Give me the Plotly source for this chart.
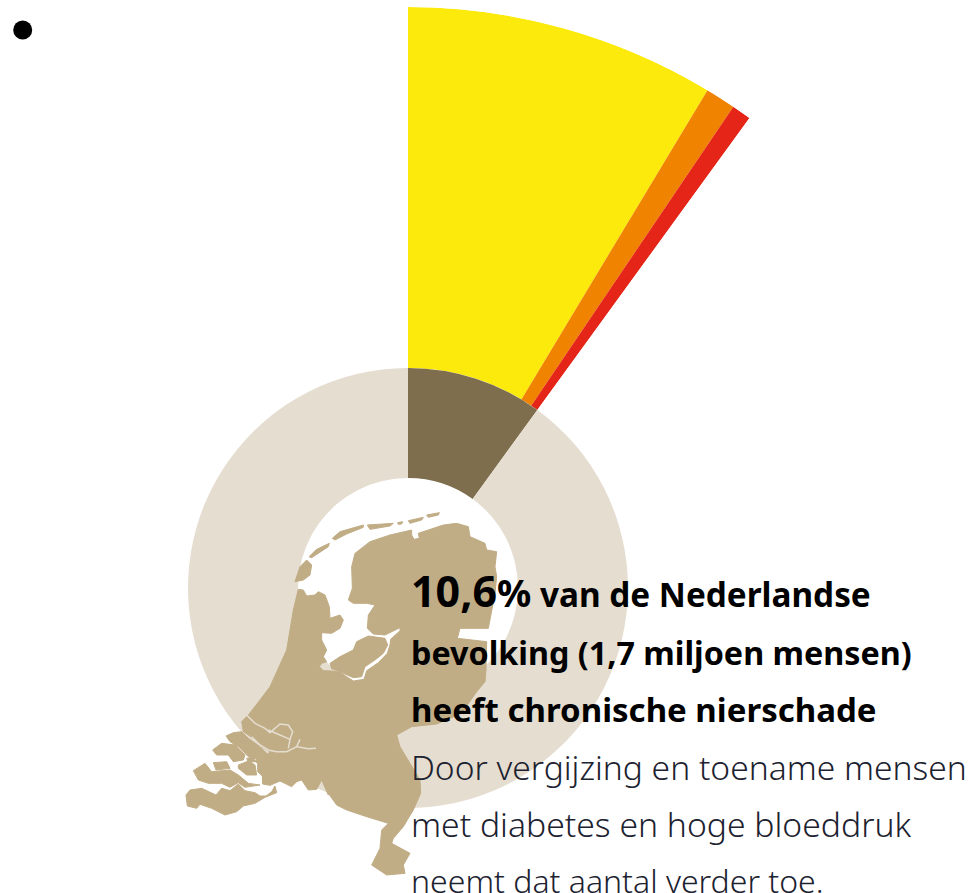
import plotly.graph_objects as go

W, H = 976, 893

# --- data ---
population_labels = ["chronische nierschade", "overige bevolking"]
population_share = [10, 90]            # share of the ring, percent of the circle
population_colors = ["#7e6e4e", "#e5ddcf"]

stage_labels = ["stadium licht", "stadium matig", "stadium ernstig"]
stage_share = [8.62, 0.84, 0.54]       # percent of the circle
stage_colors = ["#fdea0d", "#f08300", "#e42518"]
stage_outer_radius = 581
ring_outer_radius = 220

heading_lines = [
    '<span style="font-size:43px">10,6</span><span style="font-size:38px">%</span> van de Nederlandse',
    "bevolking (1,7 miljoen mensen)",
    "heeft chronische nierschade",
]
body_lines = [
    "Door vergijzing en toename mensen",
    "met diabetes en hoge bloeddruk",
    "neemt dat aantal verder toe.",
]

# --- decorative outline of the Netherlands (not data), in screen pixels ---
MAP_COLOR = "#c1ad85"
RING_COLOR = "#e5ddcf"


def z(ox, oy, pts):
    return [(ox + a / 3, oy + b / 3) for a, b in pts]


mainland = (
    z(290, 510, [(25, 238), (40, 240), (50, 258), (75, 255), (85, 245), (105, 255), (118, 290), (120, 325),
                 (150, 315), (160, 330), (150, 355), (125, 370), (95, 368), (95, 390), (110, 420), (100, 440),
                 (110, 455), (95, 460), (88, 470), (100, 482), (125, 483), (150, 487), (170, 500), (190, 513),
                 (222, 508), (230, 482), (265, 458), (292, 430), (300, 405), (302, 388), (330, 362), (330, 353),
                 (285, 375), (250, 372), (232, 355), (235, 315), (255, 285), (230, 280), (190, 280), (175, 270),
                 (187, 235), (185, 170), (195, 130), (240, 95), (300, 75), (365, 60), (365, 75), (372, 88),
                 (388, 85), (385, 70)])
    + z(180, 500, [(790, 75), (830, 70), (865, 80), (870, 110), (915, 130), (920, 150), (950, 155), (945, 200),
                   (950, 230), (945, 280), (925, 385), (840, 385), (832, 415), (920, 425), (918, 510), (915, 545),
                   (890, 575), (845, 640), (770, 672), (695, 680), (650, 705), (660, 740), (690, 790), (720, 840),
                   (722, 880), (700, 930), (670, 980), (640, 1015), (635, 1030), (690, 1060), (670, 1095),
                   (675, 1120), (620, 1125), (575, 1095), (600, 1045), (605, 990), (625, 970), (560, 950),
                   (500, 930), (470, 915), (445, 880)])
    + z(180, 700, [(445, 285), (425, 240), (410, 268), (385, 270), (365, 240), (350, 245), (335, 260), (300, 243),
                   (270, 256), (248, 252), (247, 228), (233, 215), (233, 190), (222, 182), (255, 170), (270, 155),
                   (245, 140), (220, 115), (190, 95), (185, 65), (205, 45), (240, 0)])
    + z(180, 500, [(270, 560), (320, 450), (340, 330)])
)
land_parts = [
    mainland,
    z(290, 510, [(120, 460), (150, 440), (190, 420), (200, 395), (235, 378), (285, 385), (293, 405), (280, 430),
                 (255, 450), (225, 470), (215, 500), (190, 503), (160, 490), (125, 476)]),
    # Wadden islands
    z(290, 510, [(15, 215), (30, 170), (50, 150), (65, 165), (60, 195), (40, 210)]),
    z(290, 510, [(57, 140), (80, 118), (118, 100), (115, 110), (85, 130), (65, 143)]),
    z(290, 510, [(127, 85), (150, 65), (220, 45), (220, 52), (170, 72), (135, 90)]),
    z(290, 510, [(232, 45), (310, 40), (300, 48), (240, 58)]),
    z(290, 510, [(323, 38), (338, 35), (335, 42), (325, 43)]),
    z(290, 510, [(355, 32), (400, 22), (395, 30), (360, 40)]),
    z(290, 510, [(410, 15), (448, 8), (445, 15), (415, 22)]),
    # Zeeland and South Holland islands
    z(180, 700, [(138, 108), (160, 98), (185, 95), (205, 115), (240, 140), (265, 165), (240, 180), (205, 170),
                 (175, 140), (150, 125)]),
    z(180, 700, [(98, 150), (125, 130), (165, 135), (195, 165), (190, 180), (160, 185), (145, 165), (110, 165)]),
    z(180, 700, [(200, 175), (220, 172), (225, 185), (205, 187)]),
    z(180, 700, [(100, 188), (140, 185), (150, 205), (108, 210)]),
    z(180, 700, [(175, 195), (205, 183), (225, 195), (230, 225), (200, 225), (175, 205)]),
    z(180, 700, [(40, 212), (75, 190), (95, 215), (150, 210), (175, 225), (205, 250), (240, 255), (195, 262),
                 (175, 248), (150, 262), (125, 250), (85, 250), (55, 240)]),
    z(180, 700, [(18, 285), (30, 270), (65, 265), (108, 285), (125, 265), (150, 272), (175, 252), (195, 272),
                 (225, 278), (240, 288), (258, 288), (275, 275), (285, 258), (290, 278), (255, 292), (225, 310),
                 (190, 318), (170, 335), (135, 345), (95, 325), (60, 313), (50, 325), (22, 318)]),
]
river_parts = [
    z(180, 700, [(200, 45), (225, 70), (255, 85), (270, 98), (300, 72), (325, 75), (338, 95), (330, 118), (300, 105),
                 (265, 90)]),
    z(180, 700, [(330, 118), (325, 145)]),
    z(180, 700, [(215, 110), (240, 135), (265, 150), (290, 155), (320, 155), (350, 140), (360, 118)]),
    z(180, 700, [(350, 140), (385, 146), (408, 145)]),
]


def path(pts, close=True):
    s = "M" + " L".join(f"{x / W:.5f},{1 - y / H:.5f}" for x, y in pts)
    return s + (" Z" if close else "")


fig = go.Figure()

# ring
fig.add_trace(go.Pie(
    labels=population_labels, values=population_share, hole=0.5, sort=False, direction="clockwise", rotation=0,
    marker=dict(colors=population_colors, line=dict(width=0)), textinfo="none", hoverinfo="label+percent",
    showlegend=False,
    domain=dict(x=[(408 - ring_outer_radius) / W, (408 + ring_outer_radius) / W],
                y=[(H - 588 - ring_outer_radius) / H, (H - 588 + ring_outer_radius) / H]),
))

# exploded sector
start = 0.0
centres, widths = [], []
for v in stage_share:
    w = v * 3.6
    centres.append(start + w / 2)
    widths.append(w)
    start += w
fig.add_trace(go.Barpolar(
    theta=centres, width=widths,
    r=[stage_outer_radius - ring_outer_radius] * len(stage_share), base=[ring_outer_radius] * len(stage_share),
    marker=dict(color=stage_colors, line=dict(width=0)), text=stage_labels, showlegend=False,
))

shapes = [dict(type="path", xref="paper", yref="paper", path=path(p), fillcolor=MAP_COLOR,
               line=dict(width=1, color=MAP_COLOR), layer="above") for p in land_parts]
shapes += [dict(type="path", xref="paper", yref="paper", path=path(p, False), fillcolor="rgba(0,0,0,0)",
                line=dict(color=RING_COLOR, width=1.5), layer="above") for p in river_parts]
# list bullet
shapes.append(dict(type="circle", xref="paper", yref="paper", x0=13.2 / W, x1=32.2 / W, y0=1 - 39.5 / H,
                   y1=1 - 20.5 / H, fillcolor="#000000", line=dict(width=0), layer="above"))

heading_y = [590, 652, 709]
heading_size = [33.3, 32.3, 33]
body_y = [767, 824, 880]
body_size = [33.6, 33.7, 32]
annotations = []
for t, yp, s in zip(heading_lines, heading_y, heading_size):
    annotations.append(dict(text=t, x=411 / W, y=1 - yp / H, xref="paper", yref="paper", xanchor="left",
                            yanchor="middle", showarrow=False, borderpad=0, borderwidth=0,
                            font=dict(family="Noto Sans", size=s, color="#000000", weight=700)))
for t, yp, s in zip(body_lines, body_y, body_size):
    annotations.append(dict(text=t, x=411 / W, y=1 - yp / H, xref="paper", yref="paper", xanchor="left",
                            yanchor="middle", showarrow=False, borderpad=0, borderwidth=0,
                            font=dict(family="Noto Sans", size=s, color="#1c2230", weight=300)))

fig.update_layout(
    width=W, height=H, margin=dict(l=0, r=0, t=0, b=0), paper_bgcolor="white", plot_bgcolor="white",
    shapes=shapes, annotations=annotations,
    polar=dict(
        domain=dict(x=[408 / W, (408 + stage_outer_radius * 0.58779) / W], y=[(H - 588) / H, (H - 7) / H]),
        sector=[54, 90], bgcolor="rgba(0,0,0,0)", bargap=0,
        radialaxis=dict(range=[0, stage_outer_radius], visible=False, showgrid=False),
        angularaxis=dict(rotation=90, direction="clockwise", visible=False, showgrid=False),
    ),
)
fig.write_html("out.html", config={"displayModeBar": False},
               post_script="document.body.style.margin='0';document.body.style.overflow='hidden';")
